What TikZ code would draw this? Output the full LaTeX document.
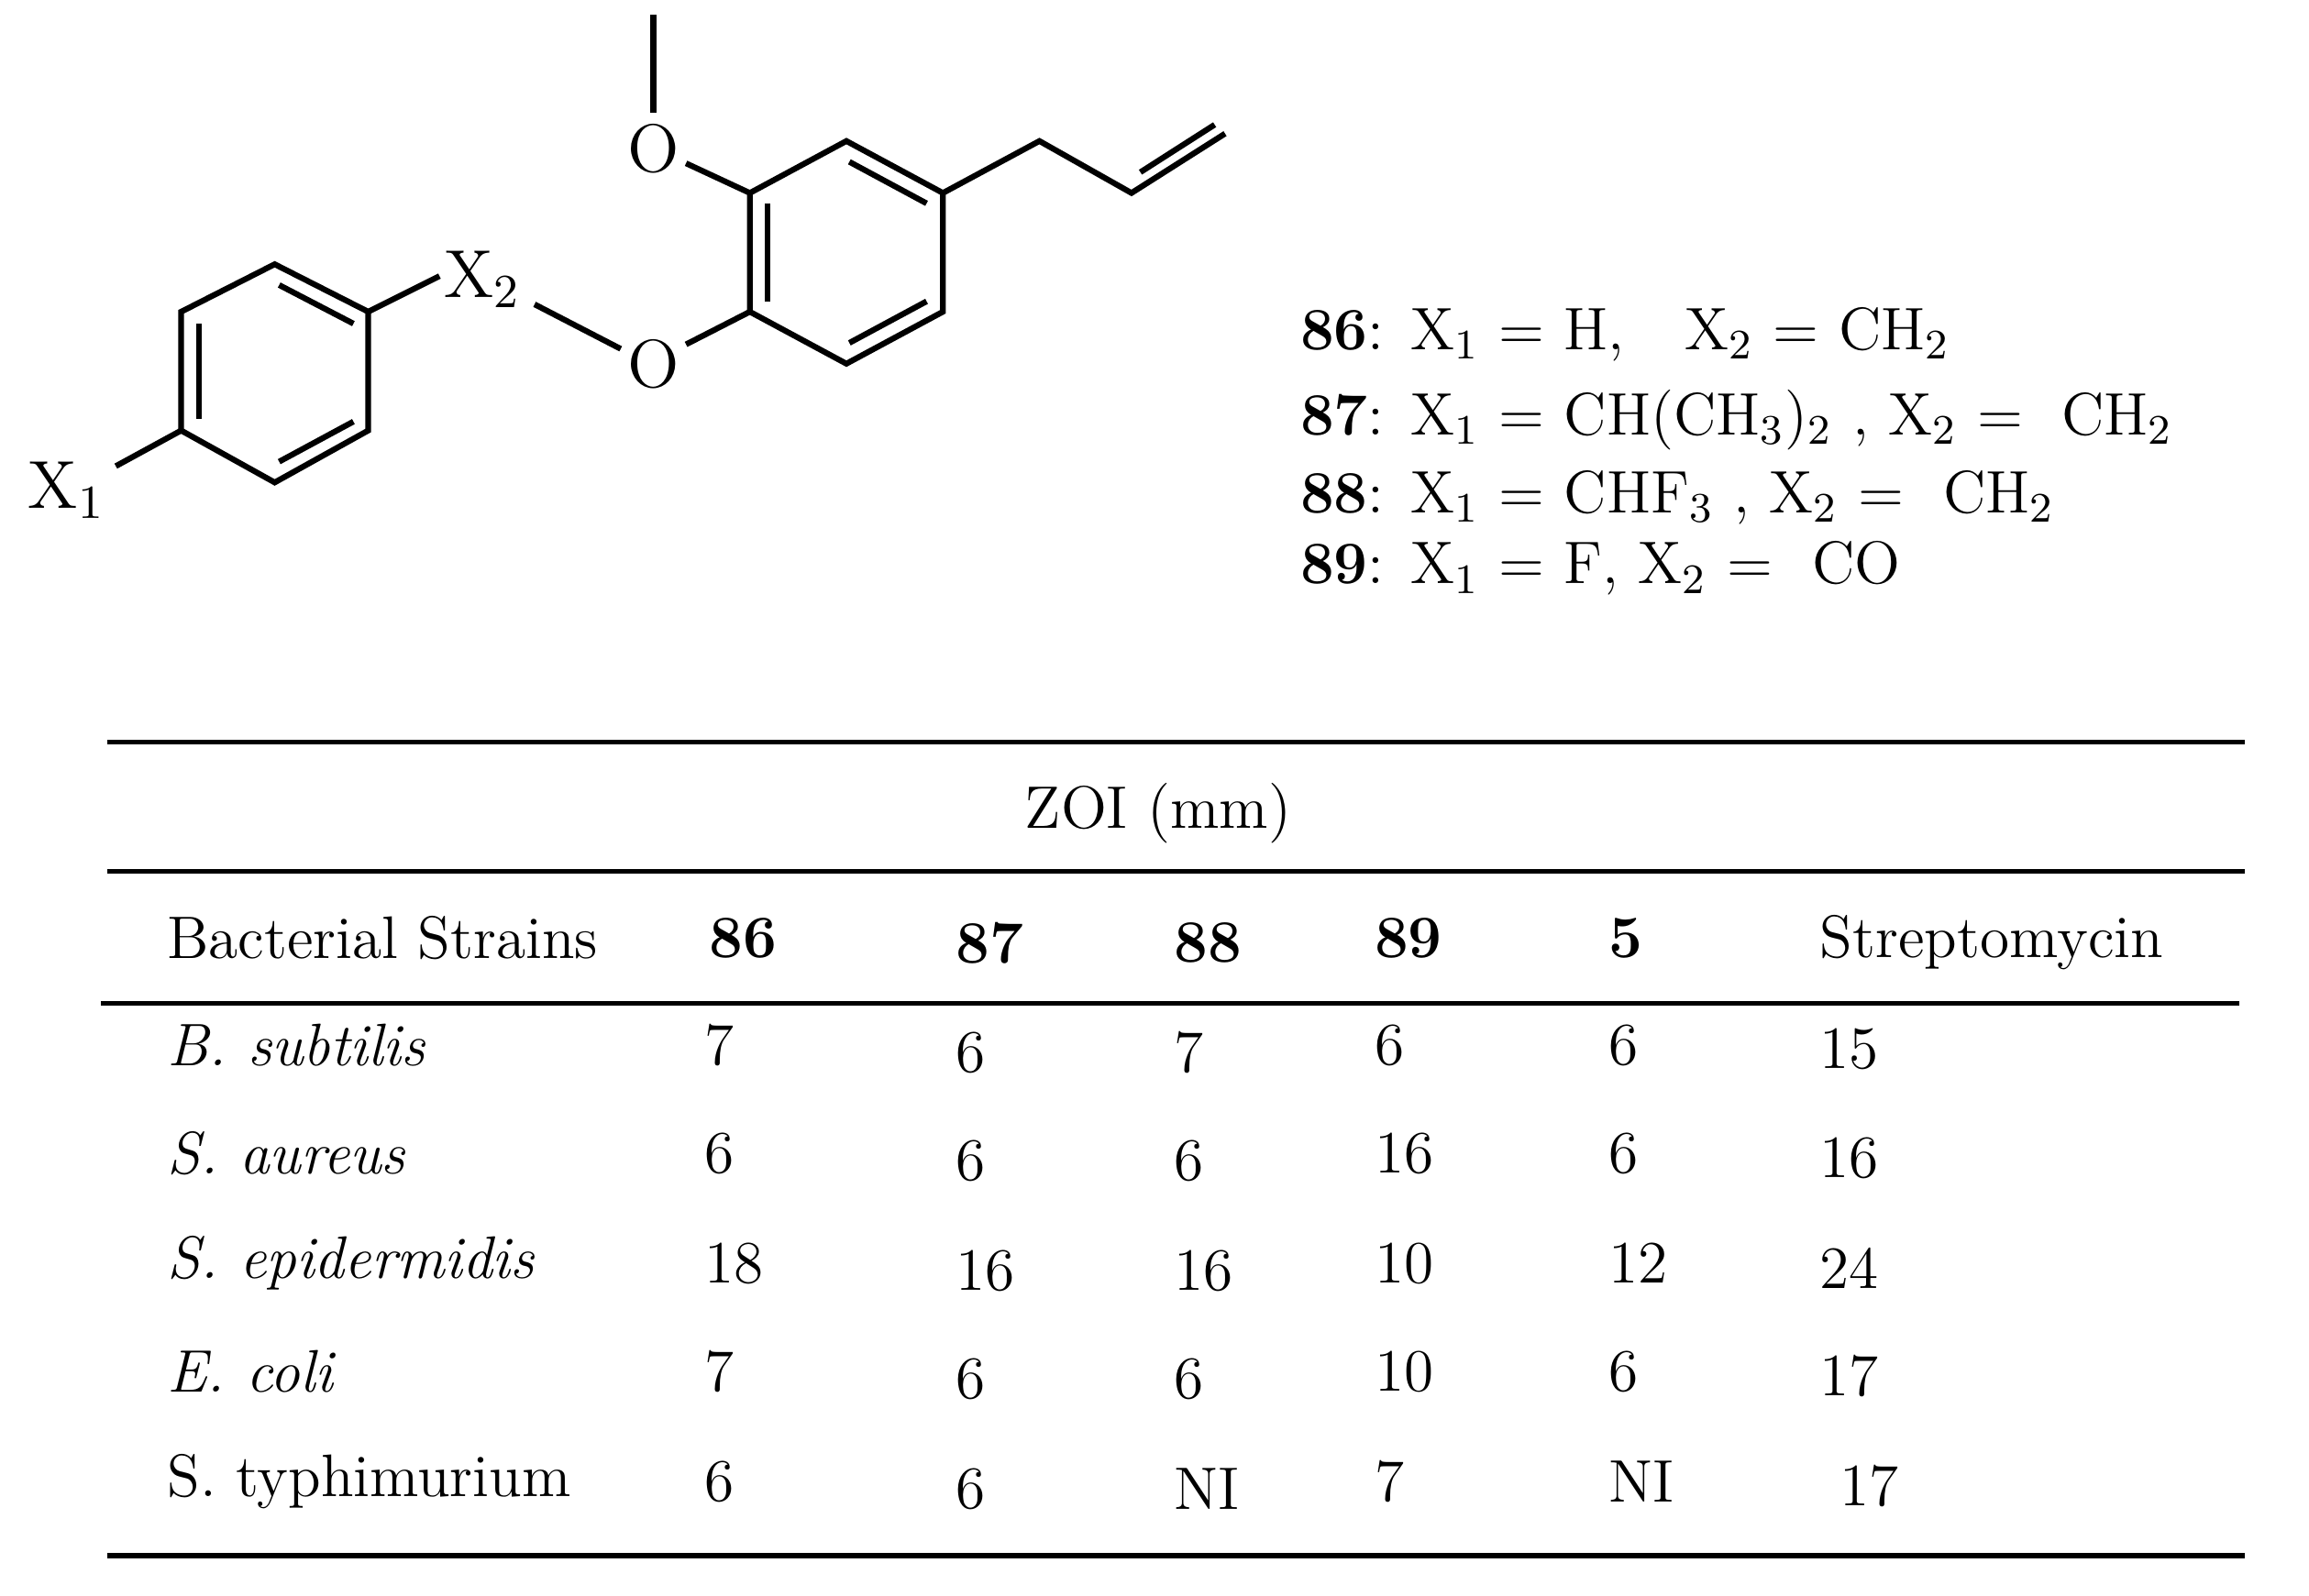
\documentclass[tikz,border=0pt]{standalone}
\begin{document}
\begin{tikzpicture}[x=0.01cm,y=-0.01cm,
  bond/.style={line width=1.1pt},
  txt/.style={font=\fontsize{11.5pt}{14pt}\selectfont,inner sep=0pt},
  atom/.style={font=\fontsize{13pt}{15pt}\selectfont,inner sep=0pt},
  lt/.style={txt,anchor=west},
  rule/.style={line width=0.9pt}]
\useasboundingbox (0,0) rectangle (1555,1075);
\newcommand{\sbs}[1]{\textsubscript{#1}}
% left ring
\coordinate (a1) at (122,210); \coordinate (a2) at (185,178); \coordinate (a3) at (248,210);
\coordinate (a4) at (248,290); \coordinate (a5) at (185,325); \coordinate (a6) at (122,290);
\draw[bond] (a1)--(a2)--(a3)--(a4)--(a5)--(a6)--cycle;
\draw[bond] (134,218)--(134,282);
\draw[bond] (188,192)--(238,218);
\draw[bond] (188,311)--(238,284);
\node[atom] (x1) at (45,330) {X\sbs{1}};
\draw[bond] (a6)--(78,314);
\node[atom] (x2) at (325,188) {X\sbs{2}};
\draw[bond] (a3)--(296,186);
\draw[bond] (360,205)--(418,235);
\node[atom] (o1) at (440,245) {O};
% right ring
\coordinate (b1) at (505,210); \coordinate (b2) at (505,130); \coordinate (b3) at (570,95);
\coordinate (b4) at (635,130); \coordinate (b5) at (635,210); \coordinate (b6) at (570,245);
\draw[bond] (b1)--(b2)--(b3)--(b4)--(b5)--(b6)--cycle;
\draw[bond] (517,137)--(517,203);
\draw[bond] (572,109)--(624,137);
\draw[bond] (572,231)--(624,203);
\draw[bond] (462,232)--(b1);
\node[atom] (o2) at (440,100) {O};
\draw[bond] (b2)--(462,110);
\draw[bond] (440,76)--(440,10);
\coordinate (c1) at (700,95); \coordinate (c2) at (762,130); \coordinate (c3) at (825,90);
\draw[bond] (b4)--(c1)--(c2)--(c3);
\draw[bond] (768,116)--(818,84);
% legend
\node[lt] (l1) at (875,225) {\textbf{86}: X\sbs{1} = H,\quad X\sbs{2} = CH\sbs{2}};
\node[lt] (l2) at (875,283) {\textbf{87}: X\sbs{1} = CH(CH\sbs{3})\sbs{2} , X\sbs{2} = \ CH\sbs{2}};
\node[lt] (l3) at (875,335) {\textbf{88}: X\sbs{1} = CHF\sbs{3} , X\sbs{2} = \ CH\sbs{2}};
\node[lt] (l4) at (875,383) {\textbf{89}: X\sbs{1} = F, X\sbs{2} = \ CO};
% table
\draw[rule] (72,500)--(1512,500);
\node[txt] (zoi) at (780,548) {ZOI (mm)};
\draw[rule] (72,587)--(1512,587);
\draw[rule] (68,676)--(1508,676);
\draw[rule] (72,1048)--(1512,1048);
\node[lt] (h0) at (112,632) {Bacterial Strains};
\node[lt] (h1) at (477,632) {\textbf{86}};
\node[lt] (h2) at (643,635) {\textbf{87}};
\node[lt] (h3) at (790,635) {\textbf{88}};
\node[lt] (h4) at (925,632) {\textbf{89}};
\node[lt] (h5) at (1083,632) {\textbf{5}};
\node[lt] (h6) at (1225,635) {Streptomycin};
\foreach \y/\n/\a/\b/\c/\d/\e/\f [count=\i] in {
 704/\textit{B. subtilis}/7/6/7/6/6/15,
 777/\textit{S. aureus}/6/6/6/16/6/16,
 851/\textit{S. epidermidis}/18/16/16/10/12/24,
 924/\textit{E. coli}/7/6/6/10/6/17,
 998/S. typhimurium/6/6/NI/7/NI/\ 17}{
 \node[lt] (r\i n) at (112,\y) {\n};
 \node[lt] (r\i a) at (474,\y) {\a};
 \node[lt] (r\i b) at (643,\y+5) {\b};
 \node[lt] (r\i c) at (790,\y+5) {\c};
 \node[lt] (r\i d) at (925,\y) {\d};
 \node[lt] (r\i e) at (1083,\y) {\e};
 \node[lt] (r\i f) at (1225,\y+3) {\f};
}
\end{tikzpicture}
\end{document}
